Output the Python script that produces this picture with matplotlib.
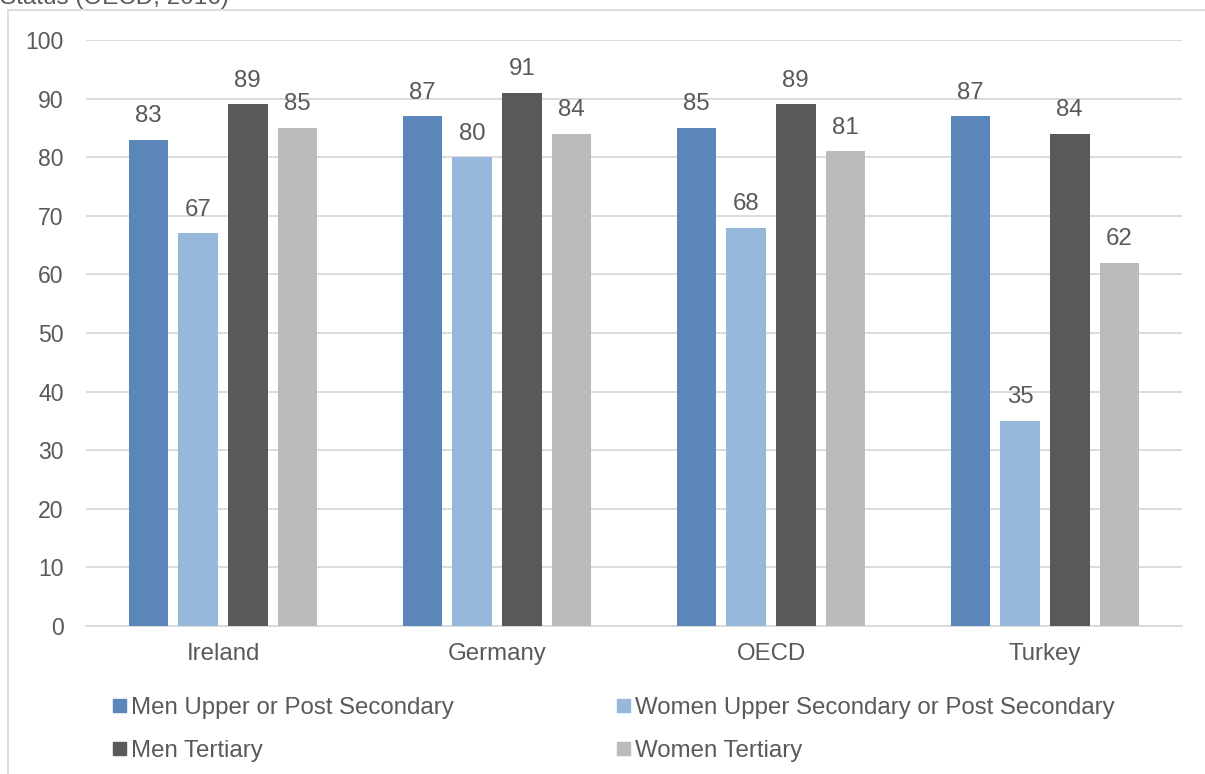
import matplotlib
matplotlib.use("Agg")
import matplotlib.pyplot as plt
from matplotlib.patches import Rectangle
from matplotlib.lines import Line2D
import numpy as np

plt.rcParams['font.family'] = ['Liberation Sans', 'DejaVu Sans']

countries = ["Ireland", "Germany", "OECD", "Turkey"]
series_names = [
    "Men Upper or Post Secondary",
    "Women Upper Secondary or Post Secondary",
    "Men Tertiary",
    "Women Tertiary",
]
men_upper = [83, 87, 85, 87]
women_upper = [67, 80, 68, 35]
men_tertiary = [89, 91, 89, 84]
women_tertiary = [85, 84, 81, 62]
series_values = [men_upper, women_upper, men_tertiary, women_tertiary]
colors = ["#5B86BA", "#95B8DB", "#595959", "#BBBBBB"]
y_ticks = list(range(0, 101, 10))

text_color = "#595959"
grid_color = "#D9D9D9"
W, H = 1205, 774
FS = 17.3
FS_Y = 16.6

fig = plt.figure(figsize=(W / 100, H / 100), dpi=100)
fig.patch.set_facecolor("white")

# outer chart frame (left and top edges)
fig.add_artist(Line2D([8 / W, 8 / W], [0, 1 - 10 / H], transform=fig.transFigure,
                      color=grid_color, lw=1.3))
fig.add_artist(Line2D([8 / W, 1], [1 - 10 / H, 1 - 10 / H], transform=fig.transFigure,
                      color=grid_color, lw=1.3))

# title, mostly cut off at the top edge
fig.text(0 / W, 1 - 4 / H, "Status (OECD, 2016)", fontsize=17.5, color=text_color,
         ha="left", va="baseline")

ax = fig.add_axes([86 / W, 1 - 626 / H, (1182 - 86) / W, (626 - 40) / H])
x = np.arange(len(countries))
pitch = 0.181
width = 0.144
offsets = (np.arange(4) - 1.5) * pitch

for vals, off, c in zip(series_values, offsets, colors):
    bars = ax.bar(x + off, vals, width, color=c, zorder=3)
    for b, v in zip(bars, vals):
        ax.annotate(str(v), (b.get_x() + b.get_width() / 2, v),
                    xytext=(0, 12.7), textcoords="offset points",
                    ha="center", va="baseline", fontsize=FS, color=text_color)

ax.set_xlim(-0.5, len(countries) - 0.5)
ax.set_ylim(0, 100)
ax.set_yticks(y_ticks)
ax.set_xticks(x)
ax.set_xticklabels(countries)
ax.yaxis.grid(True, color=grid_color, lw=1.3, zorder=0)
ax.set_axisbelow(True)
for s in ["top", "right", "left"]:
    ax.spines[s].set_visible(False)
ax.spines["bottom"].set_color(grid_color)
ax.spines["bottom"].set_linewidth(1.3)
ax.tick_params(axis="both", length=0, colors=text_color)
ax.tick_params(axis="y", pad=16, labelsize=FS_Y)
ax.tick_params(axis="x", pad=12.5, labelsize=FS)

# legend entries in a 2x2 grid
legend_pos = [(113, 705.5), (617, 705.5), (113, 748.5), (617, 748.5)]
for (lx, ly), name, c in zip(legend_pos, series_names, colors):
    fig.add_artist(Rectangle((lx / W, 1 - (ly + 6.5) / H), 13 / W, 13 / H,
                             transform=fig.transFigure, color=c))
    fig.text((lx + 18) / W, 1 - ly / H, name, fontsize=FS, color=text_color,
             ha="left", va="center_baseline")

fig.savefig("out.png", dpi=100, facecolor="white")
